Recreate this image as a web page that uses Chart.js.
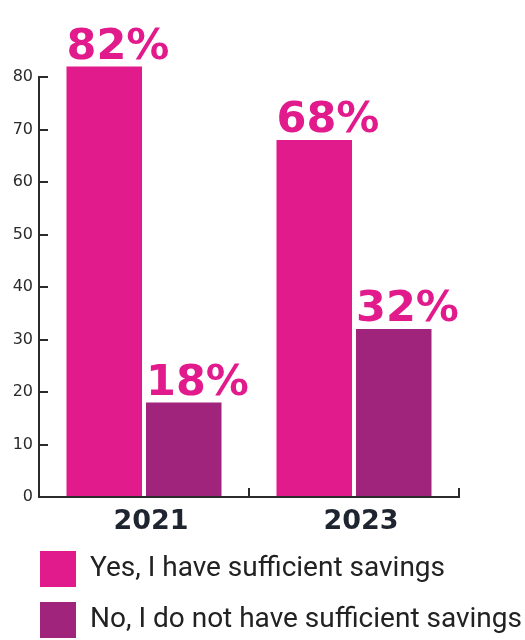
<!DOCTYPE html>
<html>
<head>
    <title>Sufficient savings</title>
    <script src="https://cdn.jsdelivr.net/npm/chart.js"></script>
    <style>
        body { margin: 0; background: #fff; }
    </style>
</head>
<body>
    <canvas id="myChart" width="525" height="640"></canvas>

    <script>
        // dati
        const years = ['2021', '2023'];
        const yesValues = [82, 68];
        const noValues = [18, 32];
        const seriesNames = ['Yes, I have sufficient savings', 'No, I do not have sufficient savings'];
        const yTicks = [0, 10, 20, 30, 40, 50, 60, 70, 80];

        const pink = '#e21b8c';
        const purple = '#a0237c';
        const axisColor = '#2b2b2b';

        // etichette percentuali sopra le barre
        const valueLabels = {
            id: 'valueLabels',
            afterDatasetsDraw(chart) {
                const ctx = chart.ctx;
                ctx.save();
                ctx.font = 'bold 43px "DejaVu Sans"';
                ctx.fillStyle = pink;
                ctx.textAlign = 'left';
                ctx.textBaseline = 'alphabetic';
                chart.data.datasets.forEach((ds, i) => {
                    chart.getDatasetMeta(i).data.forEach((bar, j) => {
                        ctx.fillText(ds.data[j] + '%', bar.x - bar.width / 2, bar.y - 8);
                    });
                });
                ctx.restore();
            }
        };

        // sposta la legenda verso destra, allineata all'asse
        const legendShift = {
            id: 'legendShift',
            afterLayout(chart) {
                if (chart.legend) {
                    chart.legend.left += 17;
                    chart.legend.right = chart.width;
                }
            }
        };

        const ctx = document.getElementById('myChart').getContext('2d');
        new Chart(ctx, {
            type: 'bar',
            data: {
                labels: years,
                datasets: [{
                    label: seriesNames[0],
                    data: yesValues,
                    backgroundColor: pink,
                    clip: false
                }, {
                    label: seriesNames[1],
                    data: noValues,
                    backgroundColor: purple,
                    clip: false
                }]
            },
            options: {
                responsive: false,
                animation: false,
                categoryPercentage: 0.757,
                barPercentage: 0.95,
                layout: { padding: { top: 77, left: 8, right: 66, bottom: -8 } },
                plugins: {
                    tooltip: { enabled: false },
                    legend: {
                        position: 'bottom',
                        align: 'start',
                        labels: {
                            boxWidth: 36,
                            boxHeight: 36,
                            padding: 15,
                            color: '#222',
                            font: { family: 'Roboto', size: 28 }
                        }
                    }
                },
                scales: {
                    x: {
                        afterFit(scale) { scale.height = 39; },
                        grid: {
                            offset: true,
                            drawOnChartArea: false,
                            tickLength: -9,
                            color: axisColor,
                            lineWidth: 2
                        },
                        border: { color: axisColor, width: 2 },
                        ticks: {
                            color: '#1f2530',
                            padding: 18,
                            labelOffset: 7,
                            font: { family: 'DejaVu Sans', size: 27, weight: 'bold' }
                        }
                    },
                    y: {
                        min: 0,
                        max: 80,
                        afterFit(scale) { scale.width = 31; },
                        afterBuildTicks(scale) { scale.ticks = yTicks.map(v => ({ value: v })); },
                        grid: {
                            drawOnChartArea: false,
                            tickLength: -9,
                            color: axisColor,
                            lineWidth: 2
                        },
                        border: { color: axisColor, width: 2 },
                        ticks: {
                            color: '#2b2b2b',
                            padding: 15,
                            font: { family: 'DejaVu Sans', size: 16 }
                        }
                    }
                }
            },
            plugins: [valueLabels, legendShift]
        });
    </script>
</body>
</html>
